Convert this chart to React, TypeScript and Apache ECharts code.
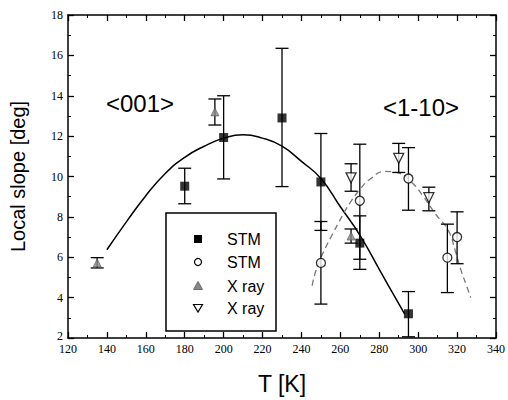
import React, { useEffect, useRef } from "react";
import * as echarts from "echarts";

// STM, filled squares (<001>)
const stmSquareT = [180, 200, 230, 250, 270, 295];
const stmSquareV = [9.52, 11.93, 12.9, 9.73, 6.7, 3.2];
const stmSquareLo = [8.65, 9.88, 9.5, 7.33, 5.4, 2.06];
const stmSquareHi = [10.41, 14.0, 16.35, 12.13, 8.05, 4.3];

// STM, open circles (<1-10>)
const stmCircleT = [250, 270, 295, 315, 320];
const stmCircleV = [5.72, 8.8, 9.9, 5.98, 7.0];
const stmCircleLo = [3.68, 5.9, 8.33, 4.25, 5.68];
const stmCircleHi = [7.77, 11.6, 11.43, 7.64, 8.25];

// X ray, up triangles (<001>)
const xrayUpT = [135, 195.5, 265.5];
const xrayUpV = [5.72, 13.2, 7.05];
const xrayUpLo = [5.47, 12.55, 6.7];
const xrayUpHi = [5.98, 13.84, 7.4];

// X ray, down triangles (<1-10>)
const xrayDownT = [265.5, 290, 305.5];
const xrayDownV = [9.93, 10.9, 8.95];
const xrayDownLo = [9.27, 10.2, 8.3];
const xrayDownHi = [10.63, 11.64, 9.47];

// fit curves
const fit001T = [140, 150, 160, 170, 180, 190, 200, 210, 220, 230, 240, 250, 260, 270, 280, 290, 293];
const fit001V = [6.37, 7.75, 9.05, 10.15, 10.95, 11.5, 11.9, 12.07, 11.9, 11.5, 10.75, 9.9, 8.5, 7.1, 5.4, 3.7, 3.2];

const fit110T = [245.5, 248, 252.5, 256, 261, 265, 270, 275, 283, 290, 297, 302, 309, 315.5, 319, 322, 325, 327];
const fit110V = [4.6, 5.5, 6.5, 7.15, 8.05, 8.7, 9.35, 9.85, 10.25, 10.17, 9.68, 9.1, 8.13, 7.32, 6.34, 5.36, 4.55, 4.0];

const legendLabels = ["STM", "STM", "X ray", "X ray"];
const directionLabels = ["<001>", "<1-10>"];

const zip = (a: number[], b: number[]) => a.map((v, i) => [v, b[i]]);
const errRows = (t: number[], lo: number[], hi: number[]) => t.map((v, i) => [v, lo[i], hi[i]]);

const SERIF = "Liberation Serif";
const SANS = "Liberation Sans";

export default function App() {
  const ref = useRef<HTMLDivElement>(null);
  useEffect(() => {
    if (!ref.current) return;
    const chart = echarts.init(ref.current, null, { renderer: "svg" });

    const axisCommon: any = {
      type: "value",
      axisLine: { show: true, onZero: false, lineStyle: { color: "#000", width: 1.5 } },
      axisTick: { show: true, inside: true, length: 6, lineStyle: { color: "#000", width: 1.3 } },
      minorTick: { show: true, splitNumber: 2, length: 3, lineStyle: { color: "#000", width: 1 } },
      splitLine: { show: false },
    };

    const errorData = [
      ...errRows(stmSquareT, stmSquareLo, stmSquareHi),
      ...errRows(stmCircleT, stmCircleLo, stmCircleHi),
      ...errRows(xrayUpT, xrayUpLo, xrayUpHi),
      ...errRows(xrayDownT, xrayDownLo, xrayDownHi),
    ];

    const legendX = 166;
    const legendY = 213;
    const rowY = [239, 262, 286, 308];
    const symX = 198;
    const textX = 227;
    const legendStyleStroke = { stroke: "#000", lineWidth: 1.2 };

    const graphic: any[] = [
      {
        type: "rect",
        z: 100,
        shape: { x: legendX, y: legendY, width: 110, height: 118 },
        style: { fill: "#fff", stroke: "#000", lineWidth: 1.5 },
      },
      {
        type: "rect",
        z: 101,
        shape: { x: symX - 4, y: rowY[0] - 4, width: 8, height: 8 },
        style: { fill: "#000" },
      },
      {
        type: "circle",
        z: 101,
        shape: { cx: symX, cy: rowY[1], r: 3.5 },
        style: { fill: "#fff", ...legendStyleStroke },
      },
      {
        type: "polygon",
        z: 101,
        shape: { points: [[symX, rowY[2] - 4.5], [symX - 4.5, rowY[2] + 3.5], [symX + 4.5, rowY[2] + 3.5]] },
        style: { fill: "#888", stroke: "#555", lineWidth: 0.8 },
      },
      {
        type: "polygon",
        z: 101,
        shape: { points: [[symX - 4.5, rowY[3] - 3.5], [symX + 4.5, rowY[3] - 3.5], [symX, rowY[3] + 4]] },
        style: { fill: "#fff", ...legendStyleStroke },
      },
      ...legendLabels.map((t, i) => ({
        type: "text",
        z: 101,
        x: textX,
        y: rowY[i],
        style: {
          text: t,
          fill: "#000",
          fontFamily: SANS,
          fontSize: 16,
          align: "left",
          verticalAlign: "middle",
        },
      })),
      {
        type: "text",
        z: 101,
        x: 140,
        y: 103,
        style: {
          text: directionLabels[0],
          fill: "#000",
          fontFamily: SANS,
          fontSize: 24,
          align: "center",
          verticalAlign: "middle",
        },
      },
      {
        type: "text",
        z: 101,
        x: 421,
        y: 107,
        style: {
          text: directionLabels[1],
          fill: "#000",
          fontFamily: SANS,
          fontSize: 24,
          align: "center",
          verticalAlign: "middle",
        },
      },
    ];

    chart.setOption({
      animation: false,
      backgroundColor: "#fff",
      grid: { left: 67, right: 10, top: 15, bottom: 58, containLabel: false },
      xAxis: [
        {
          ...axisCommon,
          position: "bottom",
          min: 120,
          max: 340,
          interval: 20,
          axisLabel: { color: "#000", fontFamily: SERIF, fontSize: 12, margin: 5 },
          name: "T [K]",
          nameLocation: "middle",
          nameGap: 34,
          nameTextStyle: { color: "#000", fontFamily: SANS, fontSize: 23 },
        },
        {
          ...axisCommon,
          position: "top",
          min: 120,
          max: 340,
          interval: 20,
          axisLabel: { show: false },
        },
      ],
      yAxis: [
        {
          ...axisCommon,
          position: "left",
          min: 2,
          max: 18,
          interval: 2,
          axisLabel: {
            color: "#000",
            fontFamily: SERIF,
            fontSize: 12,
            margin: 5,
            formatter: (v: number) => (v === 2 ? "{low|2}" : String(v)),
            rich: { low: { fontFamily: SERIF, fontSize: 12, color: "#000", padding: [0, 0, 5, 0] } },
          },
          name: "Local slope [deg]",
          nameLocation: "middle",
          nameGap: 40,
          nameTextStyle: { color: "#000", fontFamily: SANS, fontSize: 20 },
        },
        {
          ...axisCommon,
          position: "right",
          min: 2,
          max: 18,
          interval: 2,
          axisLabel: { show: false },
        },
      ],
      series: [
        {
          name: "fit <001>",
          type: "line",
          smooth: true,
          showSymbol: false,
          data: zip(fit001T, fit001V),
          lineStyle: { color: "#000", width: 1.5 },
          z: 2,
        },
        {
          name: "fit <1-10>",
          type: "line",
          smooth: true,
          showSymbol: false,
          data: zip(fit110T, fit110V),
          lineStyle: { color: "#777", width: 1.3, type: [6, 4] },
          z: 2,
        },
        {
          name: "errors",
          type: "custom",
          data: errorData,
          encode: { x: 0, y: [1, 2] },
          z: 3,
          renderItem: (params: any, api: any) => {
            const x = api.value(0);
            const a = api.coord([x, api.value(1)]);
            const b = api.coord([x, api.value(2)]);
            const w = 6.5;
            const style = { stroke: "#000", lineWidth: 1.3 };
            return {
              type: "group",
              children: [
                { type: "line", shape: { x1: a[0], y1: a[1], x2: b[0], y2: b[1] }, style },
                { type: "line", shape: { x1: a[0] - w, y1: a[1], x2: a[0] + w, y2: a[1] }, style },
                { type: "line", shape: { x1: b[0] - w, y1: b[1], x2: b[0] + w, y2: b[1] }, style },
              ],
            };
          },
        },
        {
          name: "STM <001>",
          type: "scatter",
          symbol: "rect",
          symbolSize: 9,
          data: zip(stmSquareT, stmSquareV),
          itemStyle: { color: "#000" },
          z: 5,
        },
        {
          name: "STM <1-10>",
          type: "scatter",
          symbol: "circle",
          symbolSize: 9,
          data: zip(stmCircleT, stmCircleV),
          itemStyle: { color: "#fff", borderColor: "#000", borderWidth: 1.3 },
          z: 5,
        },
        {
          name: "X ray <001>",
          type: "scatter",
          symbol: "triangle",
          symbolSize: 8,
          data: zip(xrayUpT, xrayUpV),
          itemStyle: { color: "#888", borderColor: "#555", borderWidth: 0.8 },
          z: 5,
        },
        {
          name: "X ray <1-10>",
          type: "scatter",
          symbol: "triangle",
          symbolRotate: 180,
          symbolSize: 10,
          data: zip(xrayDownT, xrayDownV),
          itemStyle: { color: "#fff", borderColor: "#000", borderWidth: 1.3 },
          z: 5,
        },
      ],
      graphic,
    });
    return () => chart.dispose();
  }, []);
  return (
    <div
      ref={ref}
      style={{ position: "absolute", left: 0, top: 0, width: 508, height: 400, background: "#fff" }}
    />
  );
}
